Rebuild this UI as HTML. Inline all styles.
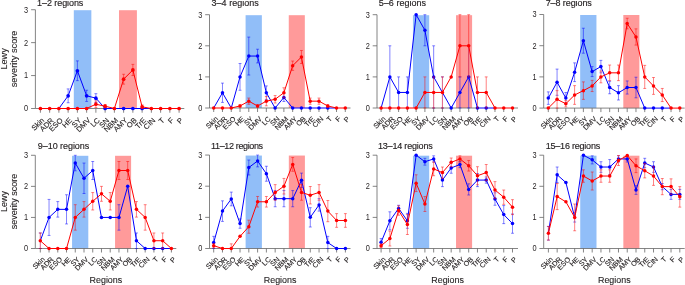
<!DOCTYPE html>
<html><head><meta charset="utf-8"><style>
html,body{margin:0;padding:0;background:#fff;overflow:hidden;width:685px;height:285px;}
svg{display:block;will-change:transform;}
text{font-family:"Liberation Sans", sans-serif;fill:#231f20;}
</style></head><body>
<svg width="685" height="285" viewBox="0 0 685 285">
<rect x="73.8" y="10.21" width="17.55" height="98.29" fill="#91bef8"/>
<rect x="119" y="10.21" width="17.9" height="98.29" fill="#ff9a9a"/>
<path d="M35.4 9.71V108.5M35.4 108.5H40.4M86.63 108.5H105.13M179.1 108.5H184.3" fill="none" stroke="#666" stroke-width="0.8"/>
<path d="M31.1 108.5H35.4" stroke="#666" stroke-width="0.8"/>
<text transform="translate(28.2 111.4) scale(0.9 1)" font-size="8.2" text-anchor="end">0</text>
<path d="M31.1 75.57H35.4" stroke="#666" stroke-width="0.8"/>
<text transform="translate(28.2 78.47) scale(0.9 1)" font-size="8.2" text-anchor="end">1</text>
<path d="M31.1 42.64H35.4" stroke="#666" stroke-width="0.8"/>
<text transform="translate(28.2 45.54) scale(0.9 1)" font-size="8.2" text-anchor="end">2</text>
<path d="M31.1 9.71H35.4" stroke="#666" stroke-width="0.8"/>
<text transform="translate(28.2 12.61) scale(0.9 1)" font-size="8.2" text-anchor="end">3</text>
<path d="M40.4 108.5v4.22" stroke="#666" stroke-width="0.8"/>
<text transform="translate(44.8 120.8) rotate(-45)" font-size="7.5" text-anchor="end" stroke="#231f20" stroke-width="0.12">Skin</text>
<path d="M49.65 108.5v4.22" stroke="#666" stroke-width="0.8"/>
<text transform="translate(54.05 120.8) rotate(-45)" font-size="7.5" text-anchor="end" stroke="#231f20" stroke-width="0.12">ADR</text>
<path d="M58.89 108.5v4.22" stroke="#666" stroke-width="0.8"/>
<text transform="translate(63.29 120.8) rotate(-45)" font-size="7.5" text-anchor="end" stroke="#231f20" stroke-width="0.12">ESO</text>
<path d="M68.14 108.5v4.22" stroke="#666" stroke-width="0.8"/>
<text transform="translate(72.54 120.8) rotate(-45)" font-size="7.5" text-anchor="end" stroke="#231f20" stroke-width="0.12">HE</text>
<path d="M77.39 108.5v4.22" stroke="#666" stroke-width="0.8"/>
<text transform="translate(81.79 120.8) rotate(-45)" font-size="7.5" text-anchor="end" stroke="#231f20" stroke-width="0.12">SY</text>
<path d="M86.63 108.5v4.22" stroke="#666" stroke-width="0.8"/>
<text transform="translate(91.03 120.8) rotate(-45)" font-size="7.5" text-anchor="end" stroke="#231f20" stroke-width="0.12">DMV</text>
<path d="M95.88 108.5v4.22" stroke="#666" stroke-width="0.8"/>
<text transform="translate(100.28 120.8) rotate(-45)" font-size="7.5" text-anchor="end" stroke="#231f20" stroke-width="0.12">LC</text>
<path d="M105.13 108.5v4.22" stroke="#666" stroke-width="0.8"/>
<text transform="translate(109.53 120.8) rotate(-45)" font-size="7.5" text-anchor="end" stroke="#231f20" stroke-width="0.12">SN</text>
<path d="M114.38 108.5v4.22" stroke="#666" stroke-width="0.8"/>
<text transform="translate(118.78 120.8) rotate(-45)" font-size="7.5" text-anchor="end" stroke="#231f20" stroke-width="0.12">NBM</text>
<path d="M123.62 108.5v4.22" stroke="#666" stroke-width="0.8"/>
<text transform="translate(128.02 120.8) rotate(-45)" font-size="7.5" text-anchor="end" stroke="#231f20" stroke-width="0.12">AMY</text>
<path d="M132.87 108.5v4.22" stroke="#666" stroke-width="0.8"/>
<text transform="translate(137.27 120.8) rotate(-45)" font-size="7.5" text-anchor="end" stroke="#231f20" stroke-width="0.12">OB</text>
<path d="M142.12 108.5v4.22" stroke="#666" stroke-width="0.8"/>
<text transform="translate(146.52 120.8) rotate(-45)" font-size="7.5" text-anchor="end" stroke="#231f20" stroke-width="0.12">TrE</text>
<path d="M151.36 108.5v4.22" stroke="#666" stroke-width="0.8"/>
<text transform="translate(155.76 120.8) rotate(-45)" font-size="7.5" text-anchor="end" stroke="#231f20" stroke-width="0.12">CIN</text>
<path d="M160.61 108.5v4.22" stroke="#666" stroke-width="0.8"/>
<text transform="translate(165.01 120.8) rotate(-45)" font-size="7.5" text-anchor="end" stroke="#231f20" stroke-width="0.12">T</text>
<path d="M169.86 108.5v4.22" stroke="#666" stroke-width="0.8"/>
<text transform="translate(174.26 120.8) rotate(-45)" font-size="7.5" text-anchor="end" stroke="#231f20" stroke-width="0.12">F</text>
<path d="M179.1 108.5v4.22" stroke="#666" stroke-width="0.8"/>
<text transform="translate(183.5 120.8) rotate(-45)" font-size="7.5" text-anchor="end" stroke="#231f20" stroke-width="0.12">P</text>
<text x="37.1" y="6.1" font-size="9" textLength="46.25" lengthAdjust="spacing" stroke="#231f20" stroke-width="0.15">1–2 regions</text>
<path d="M68.14 88.91V102.74M66.69 88.91h2.9M66.69 102.74h2.9M77.39 60.88V80.64M75.94 60.88h2.9M75.94 80.64h2.9M86.63 90.22V101.42M85.18 90.22h2.9M85.18 101.42h2.9M95.88 93.68V100.93M94.43 93.68h2.9M94.43 102.57h2.9" stroke="rgba(0,0,255,0.55)" stroke-width="0.9" fill="none"/>
<path d="M95.88 100.93V102.57" stroke="rgba(0,0,255,0.28)" stroke-width="0.9" fill="none"/>
<path d="M58.89 108.5L68.14 95.82L77.39 70.76L86.63 95.82L95.88 98.13L105.13 108.5L114.38 108.5L123.62 108.5L132.87 108.5L142.12 108.5L151.36 108.5" fill="none" stroke="#0000ff" stroke-width="1" stroke-linejoin="round"/>
<circle cx="68.14" cy="95.82" r="1.85" fill="#0000ff"/>
<circle cx="77.39" cy="70.76" r="1.85" fill="#0000ff"/>
<circle cx="86.63" cy="95.82" r="1.85" fill="#0000ff"/>
<circle cx="95.88" cy="98.13" r="1.85" fill="#0000ff"/>
<circle cx="105.13" cy="108.5" r="1.85" fill="#0000ff"/>
<circle cx="123.62" cy="108.5" r="1.85" fill="#0000ff"/>
<circle cx="132.87" cy="108.5" r="1.85" fill="#0000ff"/>
<circle cx="142.12" cy="108.5" r="1.85" fill="#0000ff"/>
<path d="M95.88 100.93V107.51M94.43 100.93h2.9M94.43 107.51h2.9M105.13 104.55V107.84M103.68 104.55h2.9M103.68 107.84h2.9M123.62 74.25V84.13M122.17 74.25h2.9M122.17 84.13h2.9M132.87 64.37V75.57M131.42 64.37h2.9M131.42 75.57h2.9M142.12 104.88V108.5M140.67 104.88h2.9M140.67 108.5h2.9" stroke="rgba(255,0,0,0.55)" stroke-width="0.9" fill="none"/>
<path d="M40.4 108.5L49.65 108.5L58.89 108.5L68.14 108.5L77.39 108.5L86.63 108.5L95.88 104.22L105.13 106.19L114.38 108.5L123.62 79.19L132.87 69.97L142.12 106.85L151.36 108.5L160.61 108.5L169.86 108.5L179.1 108.5" fill="none" stroke="#ff0000" stroke-width="1" stroke-linejoin="round"/>
<circle cx="40.4" cy="108.5" r="1.85" fill="#ff0000"/>
<circle cx="49.65" cy="108.5" r="1.85" fill="#ff0000"/>
<circle cx="58.89" cy="108.5" r="1.85" fill="#ff0000"/>
<circle cx="68.14" cy="108.5" r="1.85" fill="#ff0000"/>
<circle cx="77.39" cy="108.5" r="1.85" fill="#ff0000"/>
<circle cx="86.63" cy="108.5" r="1.85" fill="#ff0000"/>
<circle cx="95.88" cy="104.22" r="1.85" fill="#ff0000"/>
<circle cx="105.13" cy="106.19" r="1.85" fill="#ff0000"/>
<circle cx="114.38" cy="108.5" r="1.85" fill="#ff0000"/>
<circle cx="123.62" cy="79.19" r="1.85" fill="#ff0000"/>
<circle cx="132.87" cy="69.97" r="1.85" fill="#ff0000"/>
<circle cx="142.12" cy="106.85" r="1.85" fill="#ff0000"/>
<circle cx="151.36" cy="108.5" r="1.85" fill="#ff0000"/>
<circle cx="160.61" cy="108.5" r="1.85" fill="#ff0000"/>
<circle cx="169.86" cy="108.5" r="1.85" fill="#ff0000"/>
<circle cx="179.1" cy="108.5" r="1.85" fill="#ff0000"/>
<rect x="245.59" y="15.2" width="16.27" height="92.8" fill="#91bef8"/>
<rect x="288.76" y="15.2" width="16.07" height="92.8" fill="#ff9a9a"/>
<path d="M209.5 14.7V108M209.5 108H213.7M231.25 108H292.66M345.29 108H350.5" fill="none" stroke="#666" stroke-width="0.8"/>
<path d="M205.2 108H209.5" stroke="#666" stroke-width="0.8"/>
<text transform="translate(202.3 110.9) scale(0.9 1)" font-size="8.2" text-anchor="end">0</text>
<path d="M205.2 76.9H209.5" stroke="#666" stroke-width="0.8"/>
<text transform="translate(202.3 79.8) scale(0.9 1)" font-size="8.2" text-anchor="end">1</text>
<path d="M205.2 45.8H209.5" stroke="#666" stroke-width="0.8"/>
<text transform="translate(202.3 48.7) scale(0.9 1)" font-size="8.2" text-anchor="end">2</text>
<path d="M205.2 14.7H209.5" stroke="#666" stroke-width="0.8"/>
<text transform="translate(202.3 17.6) scale(0.9 1)" font-size="8.2" text-anchor="end">3</text>
<path d="M213.7 108v4" stroke="#666" stroke-width="0.8"/>
<text transform="translate(218.6 119.3) rotate(-45)" font-size="7.1" text-anchor="end" stroke="#231f20" stroke-width="0.12">Skin</text>
<path d="M222.47 108v4" stroke="#666" stroke-width="0.8"/>
<text transform="translate(227.37 119.3) rotate(-45)" font-size="7.1" text-anchor="end" stroke="#231f20" stroke-width="0.12">ADR</text>
<path d="M231.25 108v4" stroke="#666" stroke-width="0.8"/>
<text transform="translate(236.15 119.3) rotate(-45)" font-size="7.1" text-anchor="end" stroke="#231f20" stroke-width="0.12">ESO</text>
<path d="M240.02 108v4" stroke="#666" stroke-width="0.8"/>
<text transform="translate(244.92 119.3) rotate(-45)" font-size="7.1" text-anchor="end" stroke="#231f20" stroke-width="0.12">HE</text>
<path d="M248.79 108v4" stroke="#666" stroke-width="0.8"/>
<text transform="translate(253.69 119.3) rotate(-45)" font-size="7.1" text-anchor="end" stroke="#231f20" stroke-width="0.12">SY</text>
<path d="M257.56 108v4" stroke="#666" stroke-width="0.8"/>
<text transform="translate(262.46 119.3) rotate(-45)" font-size="7.1" text-anchor="end" stroke="#231f20" stroke-width="0.12">DMV</text>
<path d="M266.34 108v4" stroke="#666" stroke-width="0.8"/>
<text transform="translate(271.24 119.3) rotate(-45)" font-size="7.1" text-anchor="end" stroke="#231f20" stroke-width="0.12">LC</text>
<path d="M275.11 108v4" stroke="#666" stroke-width="0.8"/>
<text transform="translate(280.01 119.3) rotate(-45)" font-size="7.1" text-anchor="end" stroke="#231f20" stroke-width="0.12">SN</text>
<path d="M283.88 108v4" stroke="#666" stroke-width="0.8"/>
<text transform="translate(288.78 119.3) rotate(-45)" font-size="7.1" text-anchor="end" stroke="#231f20" stroke-width="0.12">NBM</text>
<path d="M292.66 108v4" stroke="#666" stroke-width="0.8"/>
<text transform="translate(297.56 119.3) rotate(-45)" font-size="7.1" text-anchor="end" stroke="#231f20" stroke-width="0.12">AMY</text>
<path d="M301.43 108v4" stroke="#666" stroke-width="0.8"/>
<text transform="translate(306.33 119.3) rotate(-45)" font-size="7.1" text-anchor="end" stroke="#231f20" stroke-width="0.12">OB</text>
<path d="M310.2 108v4" stroke="#666" stroke-width="0.8"/>
<text transform="translate(315.1 119.3) rotate(-45)" font-size="7.1" text-anchor="end" stroke="#231f20" stroke-width="0.12">TrE</text>
<path d="M318.98 108v4" stroke="#666" stroke-width="0.8"/>
<text transform="translate(323.88 119.3) rotate(-45)" font-size="7.1" text-anchor="end" stroke="#231f20" stroke-width="0.12">CIN</text>
<path d="M327.75 108v4" stroke="#666" stroke-width="0.8"/>
<text transform="translate(332.65 119.3) rotate(-45)" font-size="7.1" text-anchor="end" stroke="#231f20" stroke-width="0.12">T</text>
<path d="M336.52 108v4" stroke="#666" stroke-width="0.8"/>
<text transform="translate(341.42 119.3) rotate(-45)" font-size="7.1" text-anchor="end" stroke="#231f20" stroke-width="0.12">F</text>
<path d="M345.29 108v4" stroke="#666" stroke-width="0.8"/>
<text transform="translate(350.19 119.3) rotate(-45)" font-size="7.1" text-anchor="end" stroke="#231f20" stroke-width="0.12">P</text>
<text x="211.5" y="6.1" font-size="9" textLength="47.3" lengthAdjust="spacing" stroke="#231f20" stroke-width="0.15">3–4 regions</text>
<path d="M222.47 83.12V102.4M221.02 83.12h2.9M221.02 102.4h2.9M240.02 63.53V90.27M238.57 63.53h2.9M238.57 90.27h2.9M248.79 37.09V75.03M247.34 37.09h2.9M247.34 75.03h2.9M257.56 49.22V62.91M256.12 49.22h2.9M256.12 62.91h2.9M266.34 85.92V96.49M264.89 85.92h2.9M264.89 99.6h2.9M283.88 97.74V101.47M282.43 93.38h2.9M282.43 101.47h2.9" stroke="rgba(0,0,255,0.55)" stroke-width="0.9" fill="none"/>
<path d="M266.34 96.49V99.6M283.88 93.38V97.74" stroke="rgba(0,0,255,0.28)" stroke-width="0.9" fill="none"/>
<path d="M213.7 108L222.47 92.76L231.25 108L240.02 76.9L248.79 56.06L257.56 56.06L266.34 92.76L275.11 108L283.88 97.43L292.66 108L301.43 108L310.2 108L318.98 108L327.75 108L336.52 108" fill="none" stroke="#0000ff" stroke-width="1" stroke-linejoin="round"/>
<circle cx="222.47" cy="92.76" r="1.75" fill="#0000ff"/>
<circle cx="240.02" cy="76.9" r="1.75" fill="#0000ff"/>
<circle cx="248.79" cy="56.06" r="1.75" fill="#0000ff"/>
<circle cx="257.56" cy="56.06" r="1.75" fill="#0000ff"/>
<circle cx="266.34" cy="92.76" r="1.75" fill="#0000ff"/>
<circle cx="275.11" cy="108" r="1.75" fill="#0000ff"/>
<circle cx="283.88" cy="97.43" r="1.75" fill="#0000ff"/>
<circle cx="292.66" cy="108" r="1.75" fill="#0000ff"/>
<circle cx="301.43" cy="108" r="1.75" fill="#0000ff"/>
<circle cx="310.2" cy="108" r="1.75" fill="#0000ff"/>
<circle cx="318.98" cy="108" r="1.75" fill="#0000ff"/>
<circle cx="327.75" cy="108" r="1.75" fill="#0000ff"/>
<path d="M240.02 104.73V107.22M238.57 104.73h2.9M238.57 107.22h2.9M248.79 98.05V104.27M247.34 98.05h2.9M247.34 104.27h2.9M257.56 104.73V107.22M256.12 104.73h2.9M256.12 107.22h2.9M266.34 96.49V105.82M264.89 96.49h2.9M264.89 105.82h2.9M275.11 95.56V103.02M273.66 95.56h2.9M273.66 103.02h2.9M283.88 87.78V97.74M282.43 87.78h2.9M282.43 97.74h2.9M292.66 61.04V70.37M291.21 61.04h2.9M291.21 70.37h2.9M301.43 50.47V63.53M299.98 50.47h2.9M299.98 63.53h2.9M310.2 98.05V104.27M308.75 98.05h2.9M308.75 104.27h2.9M318.98 98.05V104.27M317.53 98.05h2.9M317.53 104.27h2.9M327.75 104.73V107.22M326.3 104.73h2.9M326.3 107.22h2.9" stroke="rgba(255,0,0,0.55)" stroke-width="0.9" fill="none"/>
<path d="M213.7 108L222.47 108L231.25 108L240.02 105.98L248.79 101.16L257.56 105.98L266.34 101.16L275.11 99.29L283.88 92.76L292.66 65.7L301.43 57L310.2 101.16L318.98 101.16L327.75 105.98L336.52 108L345.29 108" fill="none" stroke="#ff0000" stroke-width="1" stroke-linejoin="round"/>
<circle cx="213.7" cy="108" r="1.75" fill="#ff0000"/>
<circle cx="222.47" cy="108" r="1.75" fill="#ff0000"/>
<circle cx="231.25" cy="108" r="1.75" fill="#ff0000"/>
<circle cx="240.02" cy="105.98" r="1.75" fill="#ff0000"/>
<circle cx="248.79" cy="101.16" r="1.75" fill="#ff0000"/>
<circle cx="257.56" cy="105.98" r="1.75" fill="#ff0000"/>
<circle cx="266.34" cy="101.16" r="1.75" fill="#ff0000"/>
<circle cx="275.11" cy="99.29" r="1.75" fill="#ff0000"/>
<circle cx="283.88" cy="92.76" r="1.75" fill="#ff0000"/>
<circle cx="292.66" cy="65.7" r="1.75" fill="#ff0000"/>
<circle cx="301.43" cy="57" r="1.75" fill="#ff0000"/>
<circle cx="310.2" cy="101.16" r="1.75" fill="#ff0000"/>
<circle cx="318.98" cy="101.16" r="1.75" fill="#ff0000"/>
<circle cx="327.75" cy="105.98" r="1.75" fill="#ff0000"/>
<circle cx="336.52" cy="108" r="1.75" fill="#ff0000"/>
<circle cx="345.29" cy="108" r="1.75" fill="#ff0000"/>
<rect x="412.94" y="15.2" width="16.26" height="92.8" fill="#91bef8"/>
<rect x="456.04" y="15.2" width="16.06" height="92.8" fill="#ff9a9a"/>
<path d="M377 14.7V108M377 108H381.1M416.14 108H477.46M512.5 108H518" fill="none" stroke="#666" stroke-width="0.8"/>
<path d="M372.7 108H377" stroke="#666" stroke-width="0.8"/>
<text transform="translate(369.8 110.9) scale(0.9 1)" font-size="8.2" text-anchor="end">0</text>
<path d="M372.7 76.9H377" stroke="#666" stroke-width="0.8"/>
<text transform="translate(369.8 79.8) scale(0.9 1)" font-size="8.2" text-anchor="end">1</text>
<path d="M372.7 45.8H377" stroke="#666" stroke-width="0.8"/>
<text transform="translate(369.8 48.7) scale(0.9 1)" font-size="8.2" text-anchor="end">2</text>
<path d="M372.7 14.7H377" stroke="#666" stroke-width="0.8"/>
<text transform="translate(369.8 17.6) scale(0.9 1)" font-size="8.2" text-anchor="end">3</text>
<path d="M381.1 108v4" stroke="#666" stroke-width="0.8"/>
<text transform="translate(386 119.3) rotate(-45)" font-size="7.1" text-anchor="end" stroke="#231f20" stroke-width="0.12">Skin</text>
<path d="M389.86 108v4" stroke="#666" stroke-width="0.8"/>
<text transform="translate(394.76 119.3) rotate(-45)" font-size="7.1" text-anchor="end" stroke="#231f20" stroke-width="0.12">ADR</text>
<path d="M398.62 108v4" stroke="#666" stroke-width="0.8"/>
<text transform="translate(403.52 119.3) rotate(-45)" font-size="7.1" text-anchor="end" stroke="#231f20" stroke-width="0.12">ESO</text>
<path d="M407.38 108v4" stroke="#666" stroke-width="0.8"/>
<text transform="translate(412.28 119.3) rotate(-45)" font-size="7.1" text-anchor="end" stroke="#231f20" stroke-width="0.12">HE</text>
<path d="M416.14 108v4" stroke="#666" stroke-width="0.8"/>
<text transform="translate(421.04 119.3) rotate(-45)" font-size="7.1" text-anchor="end" stroke="#231f20" stroke-width="0.12">SY</text>
<path d="M424.9 108v4" stroke="#666" stroke-width="0.8"/>
<text transform="translate(429.8 119.3) rotate(-45)" font-size="7.1" text-anchor="end" stroke="#231f20" stroke-width="0.12">DMV</text>
<path d="M433.66 108v4" stroke="#666" stroke-width="0.8"/>
<text transform="translate(438.56 119.3) rotate(-45)" font-size="7.1" text-anchor="end" stroke="#231f20" stroke-width="0.12">LC</text>
<path d="M442.42 108v4" stroke="#666" stroke-width="0.8"/>
<text transform="translate(447.32 119.3) rotate(-45)" font-size="7.1" text-anchor="end" stroke="#231f20" stroke-width="0.12">SN</text>
<path d="M451.18 108v4" stroke="#666" stroke-width="0.8"/>
<text transform="translate(456.08 119.3) rotate(-45)" font-size="7.1" text-anchor="end" stroke="#231f20" stroke-width="0.12">NBM</text>
<path d="M459.94 108v4" stroke="#666" stroke-width="0.8"/>
<text transform="translate(464.84 119.3) rotate(-45)" font-size="7.1" text-anchor="end" stroke="#231f20" stroke-width="0.12">AMY</text>
<path d="M468.7 108v4" stroke="#666" stroke-width="0.8"/>
<text transform="translate(473.6 119.3) rotate(-45)" font-size="7.1" text-anchor="end" stroke="#231f20" stroke-width="0.12">OB</text>
<path d="M477.46 108v4" stroke="#666" stroke-width="0.8"/>
<text transform="translate(482.36 119.3) rotate(-45)" font-size="7.1" text-anchor="end" stroke="#231f20" stroke-width="0.12">TrE</text>
<path d="M486.22 108v4" stroke="#666" stroke-width="0.8"/>
<text transform="translate(491.12 119.3) rotate(-45)" font-size="7.1" text-anchor="end" stroke="#231f20" stroke-width="0.12">CIN</text>
<path d="M494.98 108v4" stroke="#666" stroke-width="0.8"/>
<text transform="translate(499.88 119.3) rotate(-45)" font-size="7.1" text-anchor="end" stroke="#231f20" stroke-width="0.12">T</text>
<path d="M503.74 108v4" stroke="#666" stroke-width="0.8"/>
<text transform="translate(508.64 119.3) rotate(-45)" font-size="7.1" text-anchor="end" stroke="#231f20" stroke-width="0.12">F</text>
<path d="M512.5 108v4" stroke="#666" stroke-width="0.8"/>
<text transform="translate(517.4 119.3) rotate(-45)" font-size="7.1" text-anchor="end" stroke="#231f20" stroke-width="0.12">P</text>
<text x="378.8" y="6.1" font-size="9" textLength="47.2" lengthAdjust="spacing" stroke="#231f20" stroke-width="0.15">5–6 regions</text>
<path d="M389.86 45.8V108M388.41 45.8h2.9M388.41 108h2.9M398.62 76.9V108M397.17 76.9h2.9M397.17 108h2.9M407.38 76.9V108M405.93 76.9h2.9M405.93 108h2.9M424.9 14.7V45.8M423.45 14.7h2.9M423.45 45.8h2.9M433.66 45.8V76.9M432.21 45.8h2.9M432.21 108h2.9M440.97 76.9h2.9M440.97 108h2.9M459.94 76.9V108M458.49 76.9h2.9M458.49 108h2.9M468.7 76.9V108M467.25 45.8h2.9M467.25 108h2.9" stroke="rgba(0,0,255,0.55)" stroke-width="0.9" fill="none"/>
<path d="M433.66 76.9V108M442.42 76.9V108M468.7 45.8V76.9" stroke="rgba(0,0,255,0.28)" stroke-width="0.9" fill="none"/>
<path d="M381.1 108L389.86 76.9L398.62 92.45L407.38 92.45L416.14 14.7L424.9 30.25L433.66 76.9L442.42 92.45L451.18 108L459.94 92.45L468.7 76.9L477.46 108L486.22 108L494.98 108" fill="none" stroke="#0000ff" stroke-width="1" stroke-linejoin="round"/>
<circle cx="389.86" cy="76.9" r="1.75" fill="#0000ff"/>
<circle cx="398.62" cy="92.45" r="1.75" fill="#0000ff"/>
<circle cx="407.38" cy="92.45" r="1.75" fill="#0000ff"/>
<circle cx="416.14" cy="14.7" r="1.75" fill="#0000ff"/>
<circle cx="424.9" cy="30.25" r="1.75" fill="#0000ff"/>
<circle cx="433.66" cy="76.9" r="1.75" fill="#0000ff"/>
<circle cx="451.18" cy="108" r="1.75" fill="#0000ff"/>
<circle cx="459.94" cy="92.45" r="1.75" fill="#0000ff"/>
<circle cx="468.7" cy="76.9" r="1.75" fill="#0000ff"/>
<circle cx="477.46" cy="108" r="1.75" fill="#0000ff"/>
<circle cx="486.22" cy="108" r="1.75" fill="#0000ff"/>
<path d="M424.9 76.9V108M423.45 76.9h2.9M423.45 108h2.9M433.66 76.9V108M432.21 76.9h2.9M432.21 108h2.9M442.42 76.9V108M440.97 76.9h2.9M440.97 108h2.9M459.94 14.7V76.9M458.49 14.7h2.9M458.49 76.9h2.9M468.7 14.7V76.9M467.25 14.7h2.9M467.25 76.9h2.9M477.46 76.9V108M476.01 76.9h2.9M476.01 108h2.9M486.22 76.9V108M484.77 76.9h2.9M484.77 108h2.9" stroke="rgba(255,0,0,0.55)" stroke-width="0.9" fill="none"/>
<path d="M381.1 108L389.86 108L398.62 108L407.38 108L416.14 108L424.9 92.45L433.66 92.45L442.42 92.45L451.18 76.9L459.94 45.8L468.7 45.8L477.46 92.45L486.22 92.45L494.98 108L503.74 108L512.5 108" fill="none" stroke="#ff0000" stroke-width="1" stroke-linejoin="round"/>
<circle cx="381.1" cy="108" r="1.75" fill="#ff0000"/>
<circle cx="389.86" cy="108" r="1.75" fill="#ff0000"/>
<circle cx="398.62" cy="108" r="1.75" fill="#ff0000"/>
<circle cx="407.38" cy="108" r="1.75" fill="#ff0000"/>
<circle cx="416.14" cy="108" r="1.75" fill="#ff0000"/>
<circle cx="424.9" cy="92.45" r="1.75" fill="#ff0000"/>
<circle cx="433.66" cy="92.45" r="1.75" fill="#ff0000"/>
<circle cx="442.42" cy="92.45" r="1.75" fill="#ff0000"/>
<circle cx="451.18" cy="76.9" r="1.75" fill="#ff0000"/>
<circle cx="459.94" cy="45.8" r="1.75" fill="#ff0000"/>
<circle cx="468.7" cy="45.8" r="1.75" fill="#ff0000"/>
<circle cx="477.46" cy="92.45" r="1.75" fill="#ff0000"/>
<circle cx="486.22" cy="92.45" r="1.75" fill="#ff0000"/>
<circle cx="494.98" cy="108" r="1.75" fill="#ff0000"/>
<circle cx="503.74" cy="108" r="1.75" fill="#ff0000"/>
<circle cx="512.5" cy="108" r="1.75" fill="#ff0000"/>
<rect x="580.17" y="15" width="16.27" height="93.1" fill="#91bef8"/>
<rect x="623.3" y="15" width="16.07" height="93.1" fill="#ff9a9a"/>
<path d="M543.7 14.5V108.1M543.7 108.1H644.74M679.8 108.1H684.7" fill="none" stroke="#666" stroke-width="0.8"/>
<path d="M539.4 108.1H543.7" stroke="#666" stroke-width="0.8"/>
<text transform="translate(536.5 111) scale(0.9 1)" font-size="8.2" text-anchor="end">0</text>
<path d="M539.4 76.9H543.7" stroke="#666" stroke-width="0.8"/>
<text transform="translate(536.5 79.8) scale(0.9 1)" font-size="8.2" text-anchor="end">1</text>
<path d="M539.4 45.7H543.7" stroke="#666" stroke-width="0.8"/>
<text transform="translate(536.5 48.6) scale(0.9 1)" font-size="8.2" text-anchor="end">2</text>
<path d="M539.4 14.5H543.7" stroke="#666" stroke-width="0.8"/>
<text transform="translate(536.5 17.4) scale(0.9 1)" font-size="8.2" text-anchor="end">3</text>
<path d="M548.3 108.1v4" stroke="#666" stroke-width="0.8"/>
<text transform="translate(553.2 119.4) rotate(-45)" font-size="7.1" text-anchor="end" stroke="#231f20" stroke-width="0.12">Skin</text>
<path d="M557.07 108.1v4" stroke="#666" stroke-width="0.8"/>
<text transform="translate(561.97 119.4) rotate(-45)" font-size="7.1" text-anchor="end" stroke="#231f20" stroke-width="0.12">ADR</text>
<path d="M565.83 108.1v4" stroke="#666" stroke-width="0.8"/>
<text transform="translate(570.73 119.4) rotate(-45)" font-size="7.1" text-anchor="end" stroke="#231f20" stroke-width="0.12">ESO</text>
<path d="M574.6 108.1v4" stroke="#666" stroke-width="0.8"/>
<text transform="translate(579.5 119.4) rotate(-45)" font-size="7.1" text-anchor="end" stroke="#231f20" stroke-width="0.12">HE</text>
<path d="M583.37 108.1v4" stroke="#666" stroke-width="0.8"/>
<text transform="translate(588.27 119.4) rotate(-45)" font-size="7.1" text-anchor="end" stroke="#231f20" stroke-width="0.12">SY</text>
<path d="M592.13 108.1v4" stroke="#666" stroke-width="0.8"/>
<text transform="translate(597.03 119.4) rotate(-45)" font-size="7.1" text-anchor="end" stroke="#231f20" stroke-width="0.12">DMV</text>
<path d="M600.9 108.1v4" stroke="#666" stroke-width="0.8"/>
<text transform="translate(605.8 119.4) rotate(-45)" font-size="7.1" text-anchor="end" stroke="#231f20" stroke-width="0.12">LC</text>
<path d="M609.67 108.1v4" stroke="#666" stroke-width="0.8"/>
<text transform="translate(614.57 119.4) rotate(-45)" font-size="7.1" text-anchor="end" stroke="#231f20" stroke-width="0.12">SN</text>
<path d="M618.44 108.1v4" stroke="#666" stroke-width="0.8"/>
<text transform="translate(623.34 119.4) rotate(-45)" font-size="7.1" text-anchor="end" stroke="#231f20" stroke-width="0.12">NBM</text>
<path d="M627.2 108.1v4" stroke="#666" stroke-width="0.8"/>
<text transform="translate(632.1 119.4) rotate(-45)" font-size="7.1" text-anchor="end" stroke="#231f20" stroke-width="0.12">AMY</text>
<path d="M635.97 108.1v4" stroke="#666" stroke-width="0.8"/>
<text transform="translate(640.87 119.4) rotate(-45)" font-size="7.1" text-anchor="end" stroke="#231f20" stroke-width="0.12">OB</text>
<path d="M644.74 108.1v4" stroke="#666" stroke-width="0.8"/>
<text transform="translate(649.64 119.4) rotate(-45)" font-size="7.1" text-anchor="end" stroke="#231f20" stroke-width="0.12">TrE</text>
<path d="M653.5 108.1v4" stroke="#666" stroke-width="0.8"/>
<text transform="translate(658.4 119.4) rotate(-45)" font-size="7.1" text-anchor="end" stroke="#231f20" stroke-width="0.12">CIN</text>
<path d="M662.27 108.1v4" stroke="#666" stroke-width="0.8"/>
<text transform="translate(667.17 119.4) rotate(-45)" font-size="7.1" text-anchor="end" stroke="#231f20" stroke-width="0.12">T</text>
<path d="M671.04 108.1v4" stroke="#666" stroke-width="0.8"/>
<text transform="translate(675.94 119.4) rotate(-45)" font-size="7.1" text-anchor="end" stroke="#231f20" stroke-width="0.12">F</text>
<path d="M679.8 108.1v4" stroke="#666" stroke-width="0.8"/>
<text transform="translate(684.7 119.4) rotate(-45)" font-size="7.1" text-anchor="end" stroke="#231f20" stroke-width="0.12">P</text>
<text x="545.7" y="6.1" font-size="9" textLength="46.1" lengthAdjust="spacing" stroke="#231f20" stroke-width="0.15">7–8 regions</text>
<path d="M548.3 91.88V104.36M546.85 91.88h2.9M546.85 104.36h2.9M557.07 69.1V90.63M555.62 69.1h2.9M555.62 95.31h2.9M565.83 92.5V100.61M564.38 92.5h2.9M564.38 103.73h2.9M574.6 62.86V81.58M573.15 62.86h2.9M573.15 81.58h2.9M583.37 28.23V53.19M581.92 28.23h2.9M581.92 53.19h2.9M592.13 66.6V76.59M590.68 66.6h2.9M590.68 76.59h2.9M600.9 60.36V70.97M599.45 60.36h2.9M599.45 72.84h2.9M609.67 81.27V93.75M608.22 81.27h2.9M608.22 93.75h2.9M618.44 85.64V99.99M616.99 85.64h2.9M616.99 99.99h2.9M627.2 80.96V94.06M625.75 80.96h2.9M625.75 94.06h2.9M635.97 77.21V97.8M634.52 77.21h2.9M634.52 97.8h2.9" stroke="rgba(0,0,255,0.55)" stroke-width="0.9" fill="none"/>
<path d="M557.07 90.63V95.31M565.83 100.61V103.73M600.9 70.97V72.84" stroke="rgba(0,0,255,0.28)" stroke-width="0.9" fill="none"/>
<path d="M548.3 98.12L557.07 82.2L565.83 98.12L574.6 72.22L583.37 40.71L592.13 71.6L600.9 66.6L609.67 87.51L618.44 92.81L627.2 87.51L635.97 87.51L644.74 108.1L653.5 108.1L662.27 108.1L671.04 108.1" fill="none" stroke="#0000ff" stroke-width="1" stroke-linejoin="round"/>
<circle cx="548.3" cy="98.12" r="1.75" fill="#0000ff"/>
<circle cx="557.07" cy="82.2" r="1.75" fill="#0000ff"/>
<circle cx="565.83" cy="98.12" r="1.75" fill="#0000ff"/>
<circle cx="574.6" cy="72.22" r="1.75" fill="#0000ff"/>
<circle cx="583.37" cy="40.71" r="1.75" fill="#0000ff"/>
<circle cx="592.13" cy="71.6" r="1.75" fill="#0000ff"/>
<circle cx="600.9" cy="66.6" r="1.75" fill="#0000ff"/>
<circle cx="609.67" cy="87.51" r="1.75" fill="#0000ff"/>
<circle cx="618.44" cy="92.81" r="1.75" fill="#0000ff"/>
<circle cx="627.2" cy="87.51" r="1.75" fill="#0000ff"/>
<circle cx="635.97" cy="87.51" r="1.75" fill="#0000ff"/>
<circle cx="644.74" cy="108.1" r="1.75" fill="#0000ff"/>
<circle cx="653.5" cy="108.1" r="1.75" fill="#0000ff"/>
<circle cx="662.27" cy="108.1" r="1.75" fill="#0000ff"/>
<path d="M557.07 90.63V108.1M555.62 90.63h2.9M555.62 108.1h2.9M565.83 100.61V106.85M564.38 100.61h2.9M564.38 106.85h2.9M574.6 85.64V104.36M573.15 85.64h2.9M573.15 104.36h2.9M583.37 81.89V99.36M581.92 81.89h2.9M581.92 99.36h2.9M592.13 80.33V91.56M590.68 80.33h2.9M590.68 91.56h2.9M600.9 70.97V82.83M599.45 70.97h2.9M599.45 82.83h2.9M609.67 65.04V80.64M608.22 65.04h2.9M608.22 80.64h2.9M618.44 65.04V80.64M616.99 65.04h2.9M616.99 80.64h2.9M627.2 18.24V28.85M625.75 18.24h2.9M625.75 28.85h2.9M635.97 28.85V45.08M634.52 28.85h2.9M634.52 45.08h2.9M644.74 65.36V88.44M643.29 65.36h2.9M643.29 88.44h2.9M653.5 77.52V94.37M652.05 77.52h2.9M652.05 94.37h2.9M662.27 88.44V101.55M660.82 88.44h2.9M660.82 101.55h2.9" stroke="rgba(255,0,0,0.55)" stroke-width="0.9" fill="none"/>
<path d="M548.3 108.1L557.07 99.36L565.83 103.73L574.6 95L583.37 90.63L592.13 85.95L600.9 76.9L609.67 72.84L618.44 72.84L627.2 23.55L635.97 36.96L644.74 76.9L653.5 85.95L662.27 95L671.04 108.1L679.8 108.1" fill="none" stroke="#ff0000" stroke-width="1" stroke-linejoin="round"/>
<circle cx="548.3" cy="108.1" r="1.75" fill="#ff0000"/>
<circle cx="557.07" cy="99.36" r="1.75" fill="#ff0000"/>
<circle cx="565.83" cy="103.73" r="1.75" fill="#ff0000"/>
<circle cx="574.6" cy="95" r="1.75" fill="#ff0000"/>
<circle cx="583.37" cy="90.63" r="1.75" fill="#ff0000"/>
<circle cx="592.13" cy="85.95" r="1.75" fill="#ff0000"/>
<circle cx="600.9" cy="76.9" r="1.75" fill="#ff0000"/>
<circle cx="609.67" cy="72.84" r="1.75" fill="#ff0000"/>
<circle cx="618.44" cy="72.84" r="1.75" fill="#ff0000"/>
<circle cx="627.2" cy="23.55" r="1.75" fill="#ff0000"/>
<circle cx="635.97" cy="36.96" r="1.75" fill="#ff0000"/>
<circle cx="644.74" cy="76.9" r="1.75" fill="#ff0000"/>
<circle cx="653.5" cy="85.95" r="1.75" fill="#ff0000"/>
<circle cx="662.27" cy="95" r="1.75" fill="#ff0000"/>
<circle cx="671.04" cy="108.1" r="1.75" fill="#ff0000"/>
<circle cx="679.8" cy="108.1" r="1.75" fill="#ff0000"/>
<rect x="72.06" y="155.79" width="16.24" height="92.71" fill="#91bef8"/>
<rect x="115.06" y="155.79" width="16.04" height="92.71" fill="#ff9a9a"/>
<path d="M35.3 155.29V248.5M35.3 248.5H49.04M66.52 248.5H145.18M171.4 248.5H176.3" fill="none" stroke="#666" stroke-width="0.8"/>
<path d="M31 248.5H35.3" stroke="#666" stroke-width="0.8"/>
<text transform="translate(28.1 251.4) scale(0.9 1)" font-size="8.2" text-anchor="end">0</text>
<path d="M31 217.43H35.3" stroke="#666" stroke-width="0.8"/>
<text transform="translate(28.1 220.33) scale(0.9 1)" font-size="8.2" text-anchor="end">1</text>
<path d="M31 186.36H35.3" stroke="#666" stroke-width="0.8"/>
<text transform="translate(28.1 189.26) scale(0.9 1)" font-size="8.2" text-anchor="end">2</text>
<path d="M31 155.29H35.3" stroke="#666" stroke-width="0.8"/>
<text transform="translate(28.1 158.19) scale(0.9 1)" font-size="8.2" text-anchor="end">3</text>
<path d="M40.3 248.5v4" stroke="#666" stroke-width="0.8"/>
<text transform="translate(45.2 259.8) rotate(-45)" font-size="7.1" text-anchor="end" stroke="#231f20" stroke-width="0.12">Skin</text>
<path d="M49.04 248.5v4" stroke="#666" stroke-width="0.8"/>
<text transform="translate(53.94 259.8) rotate(-45)" font-size="7.1" text-anchor="end" stroke="#231f20" stroke-width="0.12">ADR</text>
<path d="M57.78 248.5v4" stroke="#666" stroke-width="0.8"/>
<text transform="translate(62.68 259.8) rotate(-45)" font-size="7.1" text-anchor="end" stroke="#231f20" stroke-width="0.12">ESO</text>
<path d="M66.52 248.5v4" stroke="#666" stroke-width="0.8"/>
<text transform="translate(71.42 259.8) rotate(-45)" font-size="7.1" text-anchor="end" stroke="#231f20" stroke-width="0.12">HE</text>
<path d="M75.26 248.5v4" stroke="#666" stroke-width="0.8"/>
<text transform="translate(80.16 259.8) rotate(-45)" font-size="7.1" text-anchor="end" stroke="#231f20" stroke-width="0.12">SY</text>
<path d="M84 248.5v4" stroke="#666" stroke-width="0.8"/>
<text transform="translate(88.9 259.8) rotate(-45)" font-size="7.1" text-anchor="end" stroke="#231f20" stroke-width="0.12">DMV</text>
<path d="M92.74 248.5v4" stroke="#666" stroke-width="0.8"/>
<text transform="translate(97.64 259.8) rotate(-45)" font-size="7.1" text-anchor="end" stroke="#231f20" stroke-width="0.12">LC</text>
<path d="M101.48 248.5v4" stroke="#666" stroke-width="0.8"/>
<text transform="translate(106.38 259.8) rotate(-45)" font-size="7.1" text-anchor="end" stroke="#231f20" stroke-width="0.12">SN</text>
<path d="M110.22 248.5v4" stroke="#666" stroke-width="0.8"/>
<text transform="translate(115.12 259.8) rotate(-45)" font-size="7.1" text-anchor="end" stroke="#231f20" stroke-width="0.12">NBM</text>
<path d="M118.96 248.5v4" stroke="#666" stroke-width="0.8"/>
<text transform="translate(123.86 259.8) rotate(-45)" font-size="7.1" text-anchor="end" stroke="#231f20" stroke-width="0.12">AMY</text>
<path d="M127.7 248.5v4" stroke="#666" stroke-width="0.8"/>
<text transform="translate(132.6 259.8) rotate(-45)" font-size="7.1" text-anchor="end" stroke="#231f20" stroke-width="0.12">OB</text>
<path d="M136.44 248.5v4" stroke="#666" stroke-width="0.8"/>
<text transform="translate(141.34 259.8) rotate(-45)" font-size="7.1" text-anchor="end" stroke="#231f20" stroke-width="0.12">TrE</text>
<path d="M145.18 248.5v4" stroke="#666" stroke-width="0.8"/>
<text transform="translate(150.08 259.8) rotate(-45)" font-size="7.1" text-anchor="end" stroke="#231f20" stroke-width="0.12">CIN</text>
<path d="M153.92 248.5v4" stroke="#666" stroke-width="0.8"/>
<text transform="translate(158.82 259.8) rotate(-45)" font-size="7.1" text-anchor="end" stroke="#231f20" stroke-width="0.12">T</text>
<path d="M162.66 248.5v4" stroke="#666" stroke-width="0.8"/>
<text transform="translate(167.56 259.8) rotate(-45)" font-size="7.1" text-anchor="end" stroke="#231f20" stroke-width="0.12">F</text>
<path d="M171.4 248.5v4" stroke="#666" stroke-width="0.8"/>
<text transform="translate(176.3 259.8) rotate(-45)" font-size="7.1" text-anchor="end" stroke="#231f20" stroke-width="0.12">P</text>
<text x="37.8" y="149.3" font-size="9" textLength="51.45" lengthAdjust="spacing" stroke="#231f20" stroke-width="0.15">9–10 regions</text>
<path d="M38.85 232.97h2.9M38.85 248.5h2.9M49.04 199.41V235.45M47.59 199.41h2.9M47.59 235.45h2.9M57.78 201.58V217.12M56.33 201.58h2.9M56.33 217.12h2.9M66.52 194.75V223.95M65.07 194.75h2.9M65.07 223.95h2.9M75.26 155.29V170.82M73.81 155.29h2.9M73.81 170.82h2.9M84 163.06V193.51M82.55 163.06h2.9M82.55 193.51h2.9M92.74 161.5V179.52M91.29 161.5h2.9M91.29 179.52h2.9M118.96 204.69V230.17M117.51 204.69h2.9M117.51 230.17h2.9M136.44 232.97V248.5M134.99 232.97h2.9M134.99 248.5h2.9" stroke="rgba(0,0,255,0.55)" stroke-width="0.9" fill="none"/>
<path d="M40.3 232.97V248.5" stroke="rgba(0,0,255,0.28)" stroke-width="0.9" fill="none"/>
<path d="M40.3 240.73L49.04 217.43L57.78 209.35L66.52 209.35L75.26 163.06L84 178.28L92.74 170.51L101.48 217.43L110.22 217.43L118.96 217.43L127.7 186.36L136.44 240.73L145.18 248.5L153.92 248.5L162.66 248.5L171.4 248.5" fill="none" stroke="#0000ff" stroke-width="1" stroke-linejoin="round"/>
<circle cx="49.04" cy="217.43" r="1.75" fill="#0000ff"/>
<circle cx="57.78" cy="209.35" r="1.75" fill="#0000ff"/>
<circle cx="66.52" cy="209.35" r="1.75" fill="#0000ff"/>
<circle cx="75.26" cy="163.06" r="1.75" fill="#0000ff"/>
<circle cx="84" cy="178.28" r="1.75" fill="#0000ff"/>
<circle cx="92.74" cy="170.51" r="1.75" fill="#0000ff"/>
<circle cx="101.48" cy="217.43" r="1.75" fill="#0000ff"/>
<circle cx="110.22" cy="217.43" r="1.75" fill="#0000ff"/>
<circle cx="118.96" cy="217.43" r="1.75" fill="#0000ff"/>
<circle cx="127.7" cy="186.36" r="1.75" fill="#0000ff"/>
<circle cx="136.44" cy="240.73" r="1.75" fill="#0000ff"/>
<circle cx="145.18" cy="248.5" r="1.75" fill="#0000ff"/>
<circle cx="153.92" cy="248.5" r="1.75" fill="#0000ff"/>
<circle cx="162.66" cy="248.5" r="1.75" fill="#0000ff"/>
<path d="M40.3 232.97V248.5M38.85 232.97h2.9M38.85 248.5h2.9M75.26 204.69V230.17M73.81 204.69h2.9M73.81 230.17h2.9M84 201.58V217.12M82.55 201.58h2.9M82.55 217.12h2.9M92.74 192.57V209.97M91.29 192.57h2.9M91.29 209.97h2.9M101.48 186.36V201.27M100.03 186.36h2.9M100.03 201.27h2.9M110.22 192.57V209.97M108.77 192.57h2.9M108.77 209.97h2.9M118.96 161.5V179.52M117.51 161.5h2.9M117.51 179.52h2.9M127.7 161.5V179.52M126.25 161.5h2.9M126.25 179.52h2.9M136.44 201.58V217.12M134.99 201.58h2.9M134.99 217.12h2.9M145.18 204.69V230.17M143.73 204.69h2.9M143.73 230.17h2.9M153.92 232.97V248.5M152.47 232.97h2.9M152.47 248.5h2.9M162.66 232.97V248.5M161.21 232.97h2.9M161.21 248.5h2.9" stroke="rgba(255,0,0,0.55)" stroke-width="0.9" fill="none"/>
<path d="M40.3 240.73L49.04 248.5L57.78 248.5L66.52 248.5L75.26 217.43L84 209.35L92.74 201.27L101.48 193.82L110.22 201.27L118.96 170.51L127.7 170.51L136.44 209.35L145.18 217.43L153.92 240.73L162.66 240.73L171.4 248.5" fill="none" stroke="#ff0000" stroke-width="1" stroke-linejoin="round"/>
<circle cx="40.3" cy="240.73" r="1.75" fill="#ff0000"/>
<circle cx="49.04" cy="248.5" r="1.75" fill="#ff0000"/>
<circle cx="57.78" cy="248.5" r="1.75" fill="#ff0000"/>
<circle cx="66.52" cy="248.5" r="1.75" fill="#ff0000"/>
<circle cx="75.26" cy="217.43" r="1.75" fill="#ff0000"/>
<circle cx="84" cy="209.35" r="1.75" fill="#ff0000"/>
<circle cx="92.74" cy="201.27" r="1.75" fill="#ff0000"/>
<circle cx="101.48" cy="193.82" r="1.75" fill="#ff0000"/>
<circle cx="110.22" cy="201.27" r="1.75" fill="#ff0000"/>
<circle cx="118.96" cy="170.51" r="1.75" fill="#ff0000"/>
<circle cx="127.7" cy="170.51" r="1.75" fill="#ff0000"/>
<circle cx="136.44" cy="209.35" r="1.75" fill="#ff0000"/>
<circle cx="145.18" cy="217.43" r="1.75" fill="#ff0000"/>
<circle cx="153.92" cy="240.73" r="1.75" fill="#ff0000"/>
<circle cx="162.66" cy="240.73" r="1.75" fill="#ff0000"/>
<circle cx="171.4" cy="248.5" r="1.75" fill="#ff0000"/>
<rect x="245.62" y="155.55" width="16.28" height="92.95" fill="#91bef8"/>
<rect x="288.82" y="155.55" width="16.08" height="92.95" fill="#ff9a9a"/>
<path d="M209.5 155.05V248.5M209.5 248.5H222.48M231.26 248.5H336.62M345.4 248.5H350.5" fill="none" stroke="#666" stroke-width="0.8"/>
<path d="M205.2 248.5H209.5" stroke="#666" stroke-width="0.8"/>
<text transform="translate(202.3 251.4) scale(0.9 1)" font-size="8.2" text-anchor="end">0</text>
<path d="M205.2 217.35H209.5" stroke="#666" stroke-width="0.8"/>
<text transform="translate(202.3 220.25) scale(0.9 1)" font-size="8.2" text-anchor="end">1</text>
<path d="M205.2 186.2H209.5" stroke="#666" stroke-width="0.8"/>
<text transform="translate(202.3 189.1) scale(0.9 1)" font-size="8.2" text-anchor="end">2</text>
<path d="M205.2 155.05H209.5" stroke="#666" stroke-width="0.8"/>
<text transform="translate(202.3 157.95) scale(0.9 1)" font-size="8.2" text-anchor="end">3</text>
<path d="M213.7 248.5v4" stroke="#666" stroke-width="0.8"/>
<text transform="translate(218.6 259.8) rotate(-45)" font-size="7.1" text-anchor="end" stroke="#231f20" stroke-width="0.12">Skin</text>
<path d="M222.48 248.5v4" stroke="#666" stroke-width="0.8"/>
<text transform="translate(227.38 259.8) rotate(-45)" font-size="7.1" text-anchor="end" stroke="#231f20" stroke-width="0.12">ADR</text>
<path d="M231.26 248.5v4" stroke="#666" stroke-width="0.8"/>
<text transform="translate(236.16 259.8) rotate(-45)" font-size="7.1" text-anchor="end" stroke="#231f20" stroke-width="0.12">ESO</text>
<path d="M240.04 248.5v4" stroke="#666" stroke-width="0.8"/>
<text transform="translate(244.94 259.8) rotate(-45)" font-size="7.1" text-anchor="end" stroke="#231f20" stroke-width="0.12">HE</text>
<path d="M248.82 248.5v4" stroke="#666" stroke-width="0.8"/>
<text transform="translate(253.72 259.8) rotate(-45)" font-size="7.1" text-anchor="end" stroke="#231f20" stroke-width="0.12">SY</text>
<path d="M257.6 248.5v4" stroke="#666" stroke-width="0.8"/>
<text transform="translate(262.5 259.8) rotate(-45)" font-size="7.1" text-anchor="end" stroke="#231f20" stroke-width="0.12">DMV</text>
<path d="M266.38 248.5v4" stroke="#666" stroke-width="0.8"/>
<text transform="translate(271.28 259.8) rotate(-45)" font-size="7.1" text-anchor="end" stroke="#231f20" stroke-width="0.12">LC</text>
<path d="M275.16 248.5v4" stroke="#666" stroke-width="0.8"/>
<text transform="translate(280.06 259.8) rotate(-45)" font-size="7.1" text-anchor="end" stroke="#231f20" stroke-width="0.12">SN</text>
<path d="M283.94 248.5v4" stroke="#666" stroke-width="0.8"/>
<text transform="translate(288.84 259.8) rotate(-45)" font-size="7.1" text-anchor="end" stroke="#231f20" stroke-width="0.12">NBM</text>
<path d="M292.72 248.5v4" stroke="#666" stroke-width="0.8"/>
<text transform="translate(297.62 259.8) rotate(-45)" font-size="7.1" text-anchor="end" stroke="#231f20" stroke-width="0.12">AMY</text>
<path d="M301.5 248.5v4" stroke="#666" stroke-width="0.8"/>
<text transform="translate(306.4 259.8) rotate(-45)" font-size="7.1" text-anchor="end" stroke="#231f20" stroke-width="0.12">OB</text>
<path d="M310.28 248.5v4" stroke="#666" stroke-width="0.8"/>
<text transform="translate(315.18 259.8) rotate(-45)" font-size="7.1" text-anchor="end" stroke="#231f20" stroke-width="0.12">TrE</text>
<path d="M319.06 248.5v4" stroke="#666" stroke-width="0.8"/>
<text transform="translate(323.96 259.8) rotate(-45)" font-size="7.1" text-anchor="end" stroke="#231f20" stroke-width="0.12">CIN</text>
<path d="M327.84 248.5v4" stroke="#666" stroke-width="0.8"/>
<text transform="translate(332.74 259.8) rotate(-45)" font-size="7.1" text-anchor="end" stroke="#231f20" stroke-width="0.12">T</text>
<path d="M336.62 248.5v4" stroke="#666" stroke-width="0.8"/>
<text transform="translate(341.52 259.8) rotate(-45)" font-size="7.1" text-anchor="end" stroke="#231f20" stroke-width="0.12">F</text>
<path d="M345.4 248.5v4" stroke="#666" stroke-width="0.8"/>
<text transform="translate(350.3 259.8) rotate(-45)" font-size="7.1" text-anchor="end" stroke="#231f20" stroke-width="0.12">P</text>
<text x="211.1" y="149.3" font-size="9" textLength="52.0" lengthAdjust="spacing" stroke="#231f20" stroke-width="0.15">11–12 regions</text>
<path d="M213.7 247.88V248.5M213.7 236.35V243.52M212.25 236.35h2.9M212.25 248.5h2.9M222.48 200.84V221.4M221.03 200.84h2.9M221.03 221.4h2.9M231.26 192.12V205.82M229.81 192.12h2.9M229.81 205.82h2.9M240.04 218.91V228.25M238.59 218.91h2.9M238.59 228.25h2.9M248.82 160.03V174.99M247.37 160.03h2.9M247.37 174.99h2.9M257.6 155.05V166.89M256.15 155.05h2.9M256.15 166.89h2.9M266.38 166.26V181.22M264.93 166.26h2.9M264.93 181.22h2.9M275.16 200.22V206.76M273.71 190.56h2.9M273.71 206.76h2.9M283.94 193.99V206.76M282.49 190.56h2.9M282.49 206.76h2.9M292.72 190.56V206.76M291.27 190.56h2.9M291.27 206.76h2.9M301.5 173.12V184.64M300.05 173.12h2.9M300.05 187.45h2.9M310.28 207.69V227.01M308.83 207.69h2.9M308.83 227.01h2.9M319.06 200.22V211.12M317.61 198.66h2.9M317.61 211.12h2.9M327.84 236.35V248.5M326.39 236.35h2.9M326.39 248.5h2.9" stroke="rgba(0,0,255,0.55)" stroke-width="0.9" fill="none"/>
<path d="M213.7 243.52V247.88M275.16 190.56V200.22M283.94 190.56V193.99M301.5 184.64V187.45M319.06 198.66V200.22" stroke="rgba(0,0,255,0.28)" stroke-width="0.9" fill="none"/>
<path d="M213.7 242.58L222.48 211.12L231.26 198.97L240.04 223.58L248.82 167.51L257.6 160.97L266.38 173.74L275.16 198.66L283.94 198.66L292.72 198.66L301.5 180.28L310.28 217.35L319.06 204.89L327.84 242.58L336.62 248.5L345.4 248.5" fill="none" stroke="#0000ff" stroke-width="1" stroke-linejoin="round"/>
<circle cx="213.7" cy="242.58" r="1.75" fill="#0000ff"/>
<circle cx="222.48" cy="211.12" r="1.75" fill="#0000ff"/>
<circle cx="231.26" cy="198.97" r="1.75" fill="#0000ff"/>
<circle cx="240.04" cy="223.58" r="1.75" fill="#0000ff"/>
<circle cx="248.82" cy="167.51" r="1.75" fill="#0000ff"/>
<circle cx="257.6" cy="160.97" r="1.75" fill="#0000ff"/>
<circle cx="266.38" cy="173.74" r="1.75" fill="#0000ff"/>
<circle cx="275.16" cy="198.66" r="1.75" fill="#0000ff"/>
<circle cx="283.94" cy="198.66" r="1.75" fill="#0000ff"/>
<circle cx="292.72" cy="198.66" r="1.75" fill="#0000ff"/>
<circle cx="301.5" cy="180.28" r="1.75" fill="#0000ff"/>
<circle cx="310.28" cy="217.35" r="1.75" fill="#0000ff"/>
<circle cx="319.06" cy="204.89" r="1.75" fill="#0000ff"/>
<circle cx="327.84" cy="242.58" r="1.75" fill="#0000ff"/>
<circle cx="336.62" cy="248.5" r="1.75" fill="#0000ff"/>
<circle cx="345.4" cy="248.5" r="1.75" fill="#0000ff"/>
<path d="M213.7 243.52V247.88M212.25 243.52h2.9M212.25 247.88h2.9M231.26 243.83V248.5M229.81 243.83h2.9M229.81 248.5h2.9M248.82 220.15V233.24M247.37 220.15h2.9M247.37 233.24h2.9M257.6 196.48V207.07M256.15 196.48h2.9M256.15 207.07h2.9M266.38 196.48V207.07M264.93 196.48h2.9M264.93 207.07h2.9M275.16 184.64V200.22M273.71 184.64h2.9M273.71 200.22h2.9M283.94 178.41V193.99M282.49 178.41h2.9M282.49 193.99h2.9M292.72 157.54V171.25M291.27 157.54h2.9M291.27 171.25h2.9M301.5 184.64V200.22M300.05 184.64h2.9M300.05 200.22h2.9M310.28 186.51V203.96M308.83 186.51h2.9M308.83 203.96h2.9M319.06 184.64V200.22M317.61 184.64h2.9M317.61 200.22h2.9M327.84 200.53V221.71M326.39 200.53h2.9M326.39 221.71h2.9M336.62 213.61V227.32M335.17 213.61h2.9M335.17 227.32h2.9M345.4 213.61V227.32M343.95 213.61h2.9M343.95 227.32h2.9" stroke="rgba(255,0,0,0.55)" stroke-width="0.9" fill="none"/>
<path d="M213.7 245.7L222.48 248.5L231.26 248.5L240.04 236.35L248.82 226.69L257.6 201.78L266.38 201.78L275.16 192.43L283.94 186.2L292.72 164.39L301.5 192.43L310.28 195.23L319.06 192.43L327.84 211.12L336.62 220.47L345.4 220.47" fill="none" stroke="#ff0000" stroke-width="1" stroke-linejoin="round"/>
<circle cx="213.7" cy="245.7" r="1.75" fill="#ff0000"/>
<circle cx="222.48" cy="248.5" r="1.75" fill="#ff0000"/>
<circle cx="231.26" cy="248.5" r="1.75" fill="#ff0000"/>
<circle cx="240.04" cy="236.35" r="1.75" fill="#ff0000"/>
<circle cx="248.82" cy="226.69" r="1.75" fill="#ff0000"/>
<circle cx="257.6" cy="201.78" r="1.75" fill="#ff0000"/>
<circle cx="266.38" cy="201.78" r="1.75" fill="#ff0000"/>
<circle cx="275.16" cy="192.43" r="1.75" fill="#ff0000"/>
<circle cx="283.94" cy="186.2" r="1.75" fill="#ff0000"/>
<circle cx="292.72" cy="164.39" r="1.75" fill="#ff0000"/>
<circle cx="301.5" cy="192.43" r="1.75" fill="#ff0000"/>
<circle cx="310.28" cy="195.23" r="1.75" fill="#ff0000"/>
<circle cx="319.06" cy="192.43" r="1.75" fill="#ff0000"/>
<circle cx="327.84" cy="211.12" r="1.75" fill="#ff0000"/>
<circle cx="336.62" cy="220.47" r="1.75" fill="#ff0000"/>
<circle cx="345.4" cy="220.47" r="1.75" fill="#ff0000"/>
<rect x="412.94" y="155.7" width="16.26" height="92.8" fill="#91bef8"/>
<rect x="456.04" y="155.7" width="16.06" height="92.8" fill="#ff9a9a"/>
<path d="M377 155.2V248.5M377 248.5H518" fill="none" stroke="#666" stroke-width="0.8"/>
<path d="M372.7 248.5H377" stroke="#666" stroke-width="0.8"/>
<text transform="translate(369.8 251.4) scale(0.9 1)" font-size="8.2" text-anchor="end">0</text>
<path d="M372.7 217.4H377" stroke="#666" stroke-width="0.8"/>
<text transform="translate(369.8 220.3) scale(0.9 1)" font-size="8.2" text-anchor="end">1</text>
<path d="M372.7 186.3H377" stroke="#666" stroke-width="0.8"/>
<text transform="translate(369.8 189.2) scale(0.9 1)" font-size="8.2" text-anchor="end">2</text>
<path d="M372.7 155.2H377" stroke="#666" stroke-width="0.8"/>
<text transform="translate(369.8 158.1) scale(0.9 1)" font-size="8.2" text-anchor="end">3</text>
<path d="M381.1 248.5v4" stroke="#666" stroke-width="0.8"/>
<text transform="translate(386 259.8) rotate(-45)" font-size="7.1" text-anchor="end" stroke="#231f20" stroke-width="0.12">Skin</text>
<path d="M389.86 248.5v4" stroke="#666" stroke-width="0.8"/>
<text transform="translate(394.76 259.8) rotate(-45)" font-size="7.1" text-anchor="end" stroke="#231f20" stroke-width="0.12">ADR</text>
<path d="M398.62 248.5v4" stroke="#666" stroke-width="0.8"/>
<text transform="translate(403.52 259.8) rotate(-45)" font-size="7.1" text-anchor="end" stroke="#231f20" stroke-width="0.12">ESO</text>
<path d="M407.38 248.5v4" stroke="#666" stroke-width="0.8"/>
<text transform="translate(412.28 259.8) rotate(-45)" font-size="7.1" text-anchor="end" stroke="#231f20" stroke-width="0.12">HE</text>
<path d="M416.14 248.5v4" stroke="#666" stroke-width="0.8"/>
<text transform="translate(421.04 259.8) rotate(-45)" font-size="7.1" text-anchor="end" stroke="#231f20" stroke-width="0.12">SY</text>
<path d="M424.9 248.5v4" stroke="#666" stroke-width="0.8"/>
<text transform="translate(429.8 259.8) rotate(-45)" font-size="7.1" text-anchor="end" stroke="#231f20" stroke-width="0.12">DMV</text>
<path d="M433.66 248.5v4" stroke="#666" stroke-width="0.8"/>
<text transform="translate(438.56 259.8) rotate(-45)" font-size="7.1" text-anchor="end" stroke="#231f20" stroke-width="0.12">LC</text>
<path d="M442.42 248.5v4" stroke="#666" stroke-width="0.8"/>
<text transform="translate(447.32 259.8) rotate(-45)" font-size="7.1" text-anchor="end" stroke="#231f20" stroke-width="0.12">SN</text>
<path d="M451.18 248.5v4" stroke="#666" stroke-width="0.8"/>
<text transform="translate(456.08 259.8) rotate(-45)" font-size="7.1" text-anchor="end" stroke="#231f20" stroke-width="0.12">NBM</text>
<path d="M459.94 248.5v4" stroke="#666" stroke-width="0.8"/>
<text transform="translate(464.84 259.8) rotate(-45)" font-size="7.1" text-anchor="end" stroke="#231f20" stroke-width="0.12">AMY</text>
<path d="M468.7 248.5v4" stroke="#666" stroke-width="0.8"/>
<text transform="translate(473.6 259.8) rotate(-45)" font-size="7.1" text-anchor="end" stroke="#231f20" stroke-width="0.12">OB</text>
<path d="M477.46 248.5v4" stroke="#666" stroke-width="0.8"/>
<text transform="translate(482.36 259.8) rotate(-45)" font-size="7.1" text-anchor="end" stroke="#231f20" stroke-width="0.12">TrE</text>
<path d="M486.22 248.5v4" stroke="#666" stroke-width="0.8"/>
<text transform="translate(491.12 259.8) rotate(-45)" font-size="7.1" text-anchor="end" stroke="#231f20" stroke-width="0.12">CIN</text>
<path d="M494.98 248.5v4" stroke="#666" stroke-width="0.8"/>
<text transform="translate(499.88 259.8) rotate(-45)" font-size="7.1" text-anchor="end" stroke="#231f20" stroke-width="0.12">T</text>
<path d="M503.74 248.5v4" stroke="#666" stroke-width="0.8"/>
<text transform="translate(508.64 259.8) rotate(-45)" font-size="7.1" text-anchor="end" stroke="#231f20" stroke-width="0.12">F</text>
<path d="M512.5 248.5v4" stroke="#666" stroke-width="0.8"/>
<text transform="translate(517.4 259.8) rotate(-45)" font-size="7.1" text-anchor="end" stroke="#231f20" stroke-width="0.12">P</text>
<text x="378" y="149.3" font-size="9" textLength="54.7" lengthAdjust="spacing" stroke="#231f20" stroke-width="0.15">13–14 regions</text>
<path d="M381.1 238.55V243.84M379.65 238.55h2.9M379.65 246.01h2.9M389.86 211.8V229.84M388.41 211.8h2.9M388.41 229.84h2.9M398.62 205.27V205.89M397.17 205.27h2.9M397.17 211.49h2.9M407.38 213.36V214.6M405.93 213.36h2.9M405.93 228.28h2.9M424.9 158.31V165.15M423.45 158.31h2.9M423.45 165.15h2.9M433.66 155.82V162.04M432.21 155.82h2.9M432.21 162.04h2.9M442.42 178.21V186.61M440.97 173.55h2.9M440.97 186.61h2.9M451.18 166.71V173.24M449.73 162.66h2.9M449.73 173.24h2.9M459.94 162.04V167.64M458.49 161.42h2.9M458.49 167.64h2.9M468.7 183.81V195.01M467.25 183.81h2.9M467.25 195.01h2.9M477.46 184.75V186.61M476.01 173.55h2.9M476.01 186.61h2.9M486.22 180.7V183.19M484.77 176.97h2.9M484.77 183.19h2.9M494.98 198.43V205.27M493.53 192.83h2.9M493.53 205.27h2.9M503.74 205.58V223.62M502.29 205.58h2.9M502.29 223.62h2.9M512.5 214.6V233.26M511.05 213.98h2.9M511.05 233.26h2.9" stroke="rgba(0,0,255,0.55)" stroke-width="0.9" fill="none"/>
<path d="M381.1 243.84V246.01M398.62 205.89V211.49M407.38 214.6V228.28M433.66 162.04V162.04M442.42 173.55V178.21M451.18 162.66V166.71M459.94 161.42V162.04M477.46 173.55V184.75M486.22 176.97V180.7M494.98 192.83V198.43M512.5 213.98V214.6" stroke="rgba(0,0,255,0.28)" stroke-width="0.9" fill="none"/>
<path d="M381.1 242.28L389.86 220.82L398.62 208.38L407.38 220.82L416.14 155.2L424.9 161.73L433.66 158.93L442.42 180.08L451.18 167.95L459.94 164.53L468.7 189.41L477.46 180.08L486.22 180.08L494.98 199.05L503.74 214.6L512.5 223.62" fill="none" stroke="#0000ff" stroke-width="1" stroke-linejoin="round"/>
<circle cx="381.1" cy="242.28" r="1.75" fill="#0000ff"/>
<circle cx="389.86" cy="220.82" r="1.75" fill="#0000ff"/>
<circle cx="398.62" cy="208.38" r="1.75" fill="#0000ff"/>
<circle cx="407.38" cy="220.82" r="1.75" fill="#0000ff"/>
<circle cx="416.14" cy="155.2" r="1.75" fill="#0000ff"/>
<circle cx="424.9" cy="161.73" r="1.75" fill="#0000ff"/>
<circle cx="433.66" cy="158.93" r="1.75" fill="#0000ff"/>
<circle cx="442.42" cy="180.08" r="1.75" fill="#0000ff"/>
<circle cx="451.18" cy="167.95" r="1.75" fill="#0000ff"/>
<circle cx="459.94" cy="164.53" r="1.75" fill="#0000ff"/>
<circle cx="468.7" cy="189.41" r="1.75" fill="#0000ff"/>
<circle cx="477.46" cy="180.08" r="1.75" fill="#0000ff"/>
<circle cx="486.22" cy="180.08" r="1.75" fill="#0000ff"/>
<circle cx="494.98" cy="199.05" r="1.75" fill="#0000ff"/>
<circle cx="503.74" cy="214.6" r="1.75" fill="#0000ff"/>
<circle cx="512.5" cy="223.62" r="1.75" fill="#0000ff"/>
<path d="M381.1 243.84V247.57M379.65 243.84h2.9M379.65 247.57h2.9M389.86 231.08V246.01M388.41 231.08h2.9M388.41 246.01h2.9M398.62 205.89V215.22M397.17 205.89h2.9M397.17 215.22h2.9M407.38 214.6V234.5M405.93 214.6h2.9M405.93 234.5h2.9M416.14 174.79V191.59M414.69 174.79h2.9M414.69 191.59h2.9M424.9 196.56V211.49M423.45 196.56h2.9M423.45 211.49h2.9M433.66 162.04V175.73M432.21 162.04h2.9M432.21 175.73h2.9M442.42 167.02V178.21M440.97 167.02h2.9M440.97 178.21h2.9M451.18 158V166.71M449.73 158h2.9M449.73 166.71h2.9M459.94 155.82V162.04M458.49 155.82h2.9M458.49 162.04h2.9M468.7 160.49V171.06M467.25 160.49h2.9M467.25 171.06h2.9M477.46 166.71V184.75M476.01 166.71h2.9M476.01 184.75h2.9M486.22 164.53V180.7M484.77 164.53h2.9M484.77 180.7h2.9M494.98 181.63V198.43M493.53 181.63h2.9M493.53 198.43h2.9M503.74 190.03V204.34M502.29 190.03h2.9M502.29 204.34h2.9M512.5 199.67V214.6M511.05 199.67h2.9M511.05 214.6h2.9" stroke="rgba(255,0,0,0.55)" stroke-width="0.9" fill="none"/>
<path d="M381.1 245.7L389.86 238.55L398.62 210.56L407.38 224.55L416.14 183.19L424.9 204.03L433.66 168.88L442.42 172.62L451.18 162.35L459.94 158.93L468.7 165.77L477.46 175.73L486.22 172.62L494.98 190.03L503.74 197.19L512.5 207.14" fill="none" stroke="#ff0000" stroke-width="1" stroke-linejoin="round"/>
<circle cx="381.1" cy="245.7" r="1.75" fill="#ff0000"/>
<circle cx="389.86" cy="238.55" r="1.75" fill="#ff0000"/>
<circle cx="398.62" cy="210.56" r="1.75" fill="#ff0000"/>
<circle cx="407.38" cy="224.55" r="1.75" fill="#ff0000"/>
<circle cx="416.14" cy="183.19" r="1.75" fill="#ff0000"/>
<circle cx="424.9" cy="204.03" r="1.75" fill="#ff0000"/>
<circle cx="433.66" cy="168.88" r="1.75" fill="#ff0000"/>
<circle cx="442.42" cy="172.62" r="1.75" fill="#ff0000"/>
<circle cx="451.18" cy="162.35" r="1.75" fill="#ff0000"/>
<circle cx="459.94" cy="158.93" r="1.75" fill="#ff0000"/>
<circle cx="468.7" cy="165.77" r="1.75" fill="#ff0000"/>
<circle cx="477.46" cy="175.73" r="1.75" fill="#ff0000"/>
<circle cx="486.22" cy="172.62" r="1.75" fill="#ff0000"/>
<circle cx="494.98" cy="190.03" r="1.75" fill="#ff0000"/>
<circle cx="503.74" cy="197.19" r="1.75" fill="#ff0000"/>
<circle cx="512.5" cy="207.14" r="1.75" fill="#ff0000"/>
<rect x="580.24" y="155.7" width="16.26" height="92.8" fill="#91bef8"/>
<rect x="623.34" y="155.7" width="16.06" height="92.8" fill="#ff9a9a"/>
<path d="M543.7 155.2V248.5M543.7 248.5H684.7" fill="none" stroke="#666" stroke-width="0.8"/>
<path d="M539.4 248.5H543.7" stroke="#666" stroke-width="0.8"/>
<text transform="translate(536.5 251.4) scale(0.9 1)" font-size="8.2" text-anchor="end">0</text>
<path d="M539.4 217.4H543.7" stroke="#666" stroke-width="0.8"/>
<text transform="translate(536.5 220.3) scale(0.9 1)" font-size="8.2" text-anchor="end">1</text>
<path d="M539.4 186.3H543.7" stroke="#666" stroke-width="0.8"/>
<text transform="translate(536.5 189.2) scale(0.9 1)" font-size="8.2" text-anchor="end">2</text>
<path d="M539.4 155.2H543.7" stroke="#666" stroke-width="0.8"/>
<text transform="translate(536.5 158.1) scale(0.9 1)" font-size="8.2" text-anchor="end">3</text>
<path d="M548.4 248.5v4" stroke="#666" stroke-width="0.8"/>
<text transform="translate(553.3 259.8) rotate(-45)" font-size="7.1" text-anchor="end" stroke="#231f20" stroke-width="0.12">Skin</text>
<path d="M557.16 248.5v4" stroke="#666" stroke-width="0.8"/>
<text transform="translate(562.06 259.8) rotate(-45)" font-size="7.1" text-anchor="end" stroke="#231f20" stroke-width="0.12">ADR</text>
<path d="M565.92 248.5v4" stroke="#666" stroke-width="0.8"/>
<text transform="translate(570.82 259.8) rotate(-45)" font-size="7.1" text-anchor="end" stroke="#231f20" stroke-width="0.12">ESO</text>
<path d="M574.68 248.5v4" stroke="#666" stroke-width="0.8"/>
<text transform="translate(579.58 259.8) rotate(-45)" font-size="7.1" text-anchor="end" stroke="#231f20" stroke-width="0.12">HE</text>
<path d="M583.44 248.5v4" stroke="#666" stroke-width="0.8"/>
<text transform="translate(588.34 259.8) rotate(-45)" font-size="7.1" text-anchor="end" stroke="#231f20" stroke-width="0.12">SY</text>
<path d="M592.2 248.5v4" stroke="#666" stroke-width="0.8"/>
<text transform="translate(597.1 259.8) rotate(-45)" font-size="7.1" text-anchor="end" stroke="#231f20" stroke-width="0.12">DMV</text>
<path d="M600.96 248.5v4" stroke="#666" stroke-width="0.8"/>
<text transform="translate(605.86 259.8) rotate(-45)" font-size="7.1" text-anchor="end" stroke="#231f20" stroke-width="0.12">LC</text>
<path d="M609.72 248.5v4" stroke="#666" stroke-width="0.8"/>
<text transform="translate(614.62 259.8) rotate(-45)" font-size="7.1" text-anchor="end" stroke="#231f20" stroke-width="0.12">SN</text>
<path d="M618.48 248.5v4" stroke="#666" stroke-width="0.8"/>
<text transform="translate(623.38 259.8) rotate(-45)" font-size="7.1" text-anchor="end" stroke="#231f20" stroke-width="0.12">NBM</text>
<path d="M627.24 248.5v4" stroke="#666" stroke-width="0.8"/>
<text transform="translate(632.14 259.8) rotate(-45)" font-size="7.1" text-anchor="end" stroke="#231f20" stroke-width="0.12">AMY</text>
<path d="M636 248.5v4" stroke="#666" stroke-width="0.8"/>
<text transform="translate(640.9 259.8) rotate(-45)" font-size="7.1" text-anchor="end" stroke="#231f20" stroke-width="0.12">OB</text>
<path d="M644.76 248.5v4" stroke="#666" stroke-width="0.8"/>
<text transform="translate(649.66 259.8) rotate(-45)" font-size="7.1" text-anchor="end" stroke="#231f20" stroke-width="0.12">TrE</text>
<path d="M653.52 248.5v4" stroke="#666" stroke-width="0.8"/>
<text transform="translate(658.42 259.8) rotate(-45)" font-size="7.1" text-anchor="end" stroke="#231f20" stroke-width="0.12">CIN</text>
<path d="M662.28 248.5v4" stroke="#666" stroke-width="0.8"/>
<text transform="translate(667.18 259.8) rotate(-45)" font-size="7.1" text-anchor="end" stroke="#231f20" stroke-width="0.12">T</text>
<path d="M671.04 248.5v4" stroke="#666" stroke-width="0.8"/>
<text transform="translate(675.94 259.8) rotate(-45)" font-size="7.1" text-anchor="end" stroke="#231f20" stroke-width="0.12">F</text>
<path d="M679.8 248.5v4" stroke="#666" stroke-width="0.8"/>
<text transform="translate(684.7 259.8) rotate(-45)" font-size="7.1" text-anchor="end" stroke="#231f20" stroke-width="0.12">P</text>
<text x="545.7" y="149.3" font-size="9" textLength="54.5" lengthAdjust="spacing" stroke="#231f20" stroke-width="0.15">15–16 regions</text>
<path d="M546.95 226.42h2.9M546.95 240.1h2.9M557.16 167.02V182.57M555.71 167.02h2.9M555.71 182.57h2.9M573.23 212.74h2.9M573.23 222.06h2.9M592.2 155.82V163.91M590.75 155.82h2.9M590.75 163.91h2.9M600.96 161.73V169.82M599.51 161.73h2.9M599.51 172.31h2.9M609.72 159.55V169.82M608.27 159.55h2.9M608.27 174.48h2.9M617.03 155.82h2.9M617.03 162.04h2.9M627.24 155.82V162.04M625.79 155.82h2.9M625.79 162.04h2.9M636 185.68V194.39M634.55 185.68h2.9M634.55 194.39h2.9M644.76 158.31V163.6M643.31 158.31h2.9M643.31 167.64h2.9M653.52 161.73V166.71M652.07 161.73h2.9M652.07 172.31h2.9M660.83 183.5h2.9M660.83 189.72h2.9M671.04 194.39V199.36M669.59 189.41h2.9M669.59 199.36h2.9M678.35 189.41h2.9M678.35 199.36h2.9" stroke="rgba(0,0,255,0.55)" stroke-width="0.9" fill="none"/>
<path d="M548.4 226.42V240.1M574.68 212.74V222.06M600.96 169.82V172.31M609.72 169.82V174.48M618.48 155.82V162.04M644.76 163.6V167.64M653.52 166.71V172.31M662.28 183.5V189.72M671.04 189.41V194.39M679.8 189.41V199.36" stroke="rgba(0,0,255,0.28)" stroke-width="0.9" fill="none"/>
<path d="M548.4 233.26L557.16 174.79L565.92 182.57L574.68 217.4L583.44 155.2L592.2 159.87L600.96 167.02L609.72 167.02L618.48 158.93L627.24 158.93L636 190.03L644.76 162.97L653.52 167.02L662.28 186.61L671.04 194.39L679.8 194.39" fill="none" stroke="#0000ff" stroke-width="1" stroke-linejoin="round"/>
<circle cx="557.16" cy="174.79" r="1.75" fill="#0000ff"/>
<circle cx="565.92" cy="182.57" r="1.75" fill="#0000ff"/>
<circle cx="583.44" cy="155.2" r="1.75" fill="#0000ff"/>
<circle cx="592.2" cy="159.87" r="1.75" fill="#0000ff"/>
<circle cx="600.96" cy="167.02" r="1.75" fill="#0000ff"/>
<circle cx="609.72" cy="167.02" r="1.75" fill="#0000ff"/>
<circle cx="618.48" cy="158.93" r="1.75" fill="#0000ff"/>
<circle cx="627.24" cy="158.93" r="1.75" fill="#0000ff"/>
<circle cx="636" cy="190.03" r="1.75" fill="#0000ff"/>
<circle cx="644.76" cy="162.97" r="1.75" fill="#0000ff"/>
<circle cx="653.52" cy="167.02" r="1.75" fill="#0000ff"/>
<circle cx="671.04" cy="194.39" r="1.75" fill="#0000ff"/>
<circle cx="679.8" cy="194.39" r="1.75" fill="#0000ff"/>
<path d="M548.4 226.42V240.1M546.95 226.42h2.9M546.95 240.1h2.9M557.16 183.5V209.62M555.71 183.5h2.9M555.71 209.62h2.9M574.68 204.03V230.77M573.23 204.03h2.9M573.23 230.77h2.9M583.44 169.82V182.26M581.99 169.82h2.9M581.99 182.26h2.9M592.2 171.99V190.03M590.75 171.99h2.9M590.75 190.03h2.9M600.96 169.82V182.26M599.51 169.82h2.9M599.51 182.26h2.9M609.72 169.82V182.26M608.27 169.82h2.9M608.27 182.26h2.9M618.48 155.51V165.46M617.03 155.51h2.9M617.03 165.46h2.9M636 158.93V172.62M634.55 158.93h2.9M634.55 172.62h2.9M644.76 163.6V177.9M643.31 163.6h2.9M643.31 177.9h2.9M653.52 166.71V185.37M652.07 166.71h2.9M652.07 185.37h2.9M662.28 178.52V194.7M660.83 178.52h2.9M660.83 194.7h2.9M671.04 178.84V194.39M669.59 178.84h2.9M669.59 194.39h2.9M679.8 186.61V207.14M678.35 186.61h2.9M678.35 207.14h2.9" stroke="rgba(255,0,0,0.55)" stroke-width="0.9" fill="none"/>
<path d="M548.4 233.26L557.16 196.56L565.92 201.85L574.68 217.4L583.44 176.04L592.2 181.01L600.96 176.04L609.72 176.04L618.48 160.49L627.24 155.51L636 165.77L644.76 170.75L653.52 176.04L662.28 186.61L671.04 186.61L679.8 196.87" fill="none" stroke="#ff0000" stroke-width="1" stroke-linejoin="round"/>
<circle cx="548.4" cy="233.26" r="1.75" fill="#ff0000"/>
<circle cx="557.16" cy="196.56" r="1.75" fill="#ff0000"/>
<circle cx="565.92" cy="201.85" r="1.75" fill="#ff0000"/>
<circle cx="574.68" cy="217.4" r="1.75" fill="#ff0000"/>
<circle cx="583.44" cy="176.04" r="1.75" fill="#ff0000"/>
<circle cx="592.2" cy="181.01" r="1.75" fill="#ff0000"/>
<circle cx="600.96" cy="176.04" r="1.75" fill="#ff0000"/>
<circle cx="609.72" cy="176.04" r="1.75" fill="#ff0000"/>
<circle cx="618.48" cy="160.49" r="1.75" fill="#ff0000"/>
<circle cx="627.24" cy="155.51" r="1.75" fill="#ff0000"/>
<circle cx="636" cy="165.77" r="1.75" fill="#ff0000"/>
<circle cx="644.76" cy="170.75" r="1.75" fill="#ff0000"/>
<circle cx="653.52" cy="176.04" r="1.75" fill="#ff0000"/>
<circle cx="662.28" cy="186.61" r="1.75" fill="#ff0000"/>
<circle cx="671.04" cy="186.61" r="1.75" fill="#ff0000"/>
<circle cx="679.8" cy="196.87" r="1.75" fill="#ff0000"/>
<text transform="translate(6.9 58.9) rotate(-90)" font-size="9.2" text-anchor="middle" stroke="#231f20" stroke-width="0.1">Lewy</text>
<text transform="translate(16.9 58.9) rotate(-90)" font-size="9.2" text-anchor="middle" stroke="#231f20" stroke-width="0.1">severity score</text>
<text transform="translate(6.9 201.6) rotate(-90)" font-size="9.0" text-anchor="middle" stroke="#231f20" stroke-width="0.1">Lewy</text>
<text transform="translate(16.9 201.6) rotate(-90)" font-size="9.0" text-anchor="middle" stroke="#231f20" stroke-width="0.1">severity score</text>
<text x="105.9" y="282.8" font-size="8.9" text-anchor="middle" stroke="#231f20" stroke-width="0.12">Regions</text>
<text x="280.1" y="282.8" font-size="8.9" text-anchor="middle" stroke="#231f20" stroke-width="0.12">Regions</text>
<text x="447.6" y="282.8" font-size="8.9" text-anchor="middle" stroke="#231f20" stroke-width="0.12">Regions</text>
<text x="614.3" y="282.8" font-size="8.9" text-anchor="middle" stroke="#231f20" stroke-width="0.12">Regions</text>
</svg>
</body></html>
